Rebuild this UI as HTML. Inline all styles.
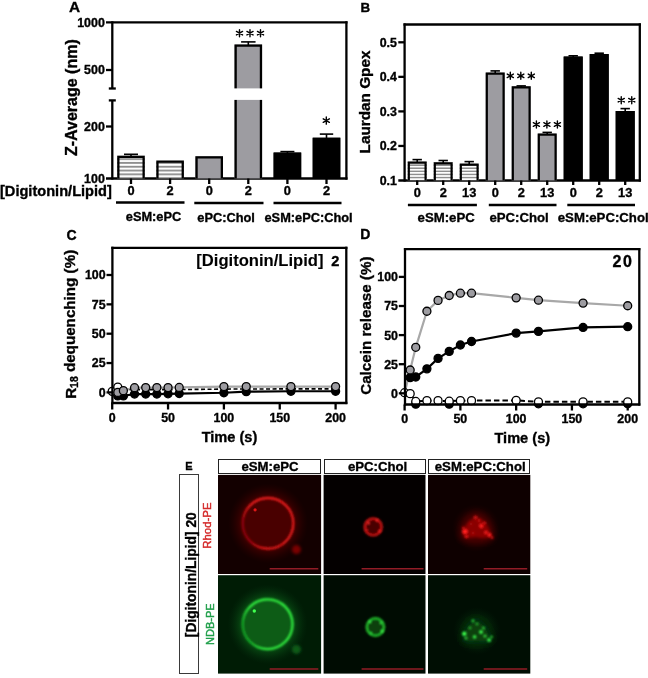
<!DOCTYPE html>
<html><head><meta charset="utf-8"><style>
html,body{margin:0;padding:0;background:#fff;width:648px;height:678px;overflow:hidden}
svg{display:block;font-family:"Liberation Sans",sans-serif;will-change:transform}
</style></head><body>
<svg width="648" height="678" viewBox="0 0 648 678">
<defs>
<pattern id="stripeA" patternUnits="userSpaceOnUse" x="0" y="157.3" width="10" height="3.8"><rect width="10" height="3.8" fill="#fff"/><rect y="0.9" width="10" height="1.8" fill="#8c8c8c"/></pattern>
<pattern id="stripeB" patternUnits="userSpaceOnUse" x="0" y="163.6" width="10" height="3.1"><rect width="10" height="3.1" fill="#fff"/><rect y="0.8" width="10" height="1.5" fill="#8c8c8c"/></pattern>
<filter id="blur1" x="-30%" y="-30%" width="160%" height="160%"><feGaussianBlur stdDeviation="0.7"/></filter>
<filter id="blur2" x="-50%" y="-50%" width="200%" height="200%"><feGaussianBlur stdDeviation="1.6"/></filter>
<filter id="blur1b" x="-80%" y="-80%" width="260%" height="260%"><feGaussianBlur stdDeviation="1.1"/></filter>
<filter id="blur1c" x="-50%" y="-50%" width="200%" height="200%"><feGaussianBlur stdDeviation="0.9"/></filter>
<filter id="blur3" x="-50%" y="-50%" width="200%" height="200%"><feGaussianBlur stdDeviation="3"/></filter>
<linearGradient id="ringR" gradientUnits="userSpaceOnUse" x1="243" y1="527" x2="256" y2="523"><stop offset="0" stop-color="#900008"/><stop offset="1" stop-color="#e81a1a"/></linearGradient>
<linearGradient id="ringG" gradientUnits="userSpaceOnUse" x1="243" y1="628" x2="256" y2="624"><stop offset="0" stop-color="#14a024"/><stop offset="1" stop-color="#30ee40"/></linearGradient>
<radialGradient id="glowR"><stop offset="0.58" stop-color="#640000" stop-opacity="0.8"/><stop offset="1" stop-color="#300000" stop-opacity="0"/></radialGradient>
<radialGradient id="glowG"><stop offset="0.58" stop-color="#0c6418" stop-opacity="0.85"/><stop offset="1" stop-color="#053010" stop-opacity="0"/></radialGradient>
</defs>
<text x="69.00" y="12.00" font-size="15.4" font-weight="bold" text-anchor="start" fill="#000" font-family="Liberation Sans" stroke="#000" stroke-width="0.35" >A</text>
<line x1="112.30" y1="21.30" x2="112.30" y2="88.50" stroke="#000" stroke-width="2.3" />
<line x1="108.80" y1="88.50" x2="115.80" y2="88.50" stroke="#000" stroke-width="2.3" />
<line x1="112.30" y1="100.40" x2="112.30" y2="179.60" stroke="#000" stroke-width="2.3" />
<line x1="108.80" y1="100.40" x2="115.80" y2="100.40" stroke="#000" stroke-width="2.3" />
<line x1="106.00" y1="22.30" x2="347.50" y2="22.30" stroke="#000" stroke-width="2.3" />
<line x1="346.40" y1="21.20" x2="346.40" y2="179.60" stroke="#000" stroke-width="2.3" />
<line x1="106.00" y1="178.50" x2="347.50" y2="178.50" stroke="#000" stroke-width="2.3" />
<line x1="106.00" y1="70.00" x2="112.30" y2="70.00" stroke="#000" stroke-width="2.3" />
<line x1="106.00" y1="126.50" x2="112.30" y2="126.50" stroke="#000" stroke-width="2.3" />
<text x="104.80" y="26.70" font-size="12.4" font-weight="bold" text-anchor="end" fill="#000" font-family="Liberation Sans" stroke="#000" stroke-width="0.35" >1000</text>
<text x="104.80" y="74.40" font-size="12.4" font-weight="bold" text-anchor="end" fill="#000" font-family="Liberation Sans" stroke="#000" stroke-width="0.35" >500</text>
<text x="104.80" y="131.00" font-size="12.4" font-weight="bold" text-anchor="end" fill="#000" font-family="Liberation Sans" stroke="#000" stroke-width="0.35" >200</text>
<text x="104.80" y="182.90" font-size="12.4" font-weight="bold" text-anchor="end" fill="#000" font-family="Liberation Sans" stroke="#000" stroke-width="0.35" >100</text>
<text x="76.90" y="97.60" font-size="16" font-weight="bold" text-anchor="middle" fill="#000" font-family="Liberation Sans" stroke="#000" stroke-width="0.35" transform="rotate(-90 76.90 97.60)" >Z-Average (nm)</text>
<rect x="117.20" y="155.70" width="27.60" height="22.80" fill="url(#stripeA)" />
<path d="M118.35 178.50V156.85H143.65V178.50" fill="none" stroke="#000" stroke-width="2.3"/>
<rect x="156.30" y="160.50" width="27.60" height="18.00" fill="url(#stripeA)" />
<path d="M157.45 178.50V161.65H182.75V178.50" fill="none" stroke="#000" stroke-width="2.3"/>
<rect x="195.40" y="156.20" width="27.60" height="22.30" fill="#9d9ca1" />
<path d="M196.55 178.50V157.35H221.85V178.50" fill="none" stroke="#000" stroke-width="2.3"/>
<rect x="234.50" y="44.40" width="27.60" height="134.10" fill="#9d9ca1" />
<path d="M235.65 178.50V45.55H260.95V178.50" fill="none" stroke="#000" stroke-width="2.3"/>
<rect x="273.60" y="152.60" width="27.60" height="25.90" fill="#000" />
<path d="M274.75 178.50V153.75H300.05V178.50" fill="none" stroke="#000" stroke-width="2.3"/>
<rect x="312.70" y="137.70" width="27.60" height="40.80" fill="#000" />
<path d="M313.85 178.50V138.85H339.15V178.50" fill="none" stroke="#000" stroke-width="2.3"/>
<rect x="233.50" y="88.40" width="29.60" height="11.50" fill="#fff" />
<line x1="124.00" y1="154.30" x2="138.00" y2="154.30" stroke="#000" stroke-width="1.6" />
<line x1="131.00" y1="154.30" x2="131.00" y2="156.00" stroke="#000" stroke-width="1.6" />
<line x1="241.10" y1="41.90" x2="255.50" y2="41.90" stroke="#000" stroke-width="1.6" />
<line x1="248.30" y1="41.90" x2="248.30" y2="45.00" stroke="#000" stroke-width="1.6" />
<line x1="280.40" y1="151.60" x2="294.40" y2="151.60" stroke="#000" stroke-width="1.6" />
<line x1="287.40" y1="151.60" x2="287.40" y2="153.00" stroke="#000" stroke-width="1.6" />
<line x1="319.80" y1="134.10" x2="333.20" y2="134.10" stroke="#000" stroke-width="1.6" />
<line x1="326.50" y1="134.10" x2="326.50" y2="138.00" stroke="#000" stroke-width="1.6" />
<path d="M239.50 29.65V36.75M236.43 31.43L242.57 34.98M236.43 34.98L242.57 31.43" stroke="#000" stroke-width="1.4" stroke-linecap="round"/>
<path d="M250.00 29.65V36.75M246.93 31.43L253.07 34.98M246.93 34.98L253.07 31.43" stroke="#000" stroke-width="1.4" stroke-linecap="round"/>
<path d="M260.50 29.65V36.75M257.43 31.43L263.57 34.98M257.43 34.98L263.57 31.43" stroke="#000" stroke-width="1.4" stroke-linecap="round"/>
<path d="M326.30 117.05V124.15M323.23 118.82L329.37 122.38M323.23 122.38L329.37 118.82" stroke="#000" stroke-width="1.4" stroke-linecap="round"/>
<line x1="131.00" y1="178.50" x2="131.00" y2="184.00" stroke="#000" stroke-width="2.3" />
<line x1="170.10" y1="178.50" x2="170.10" y2="184.00" stroke="#000" stroke-width="2.3" />
<line x1="209.20" y1="178.50" x2="209.20" y2="184.00" stroke="#000" stroke-width="2.3" />
<line x1="248.30" y1="178.50" x2="248.30" y2="184.00" stroke="#000" stroke-width="2.3" />
<line x1="287.40" y1="178.50" x2="287.40" y2="184.00" stroke="#000" stroke-width="2.3" />
<line x1="326.50" y1="178.50" x2="326.50" y2="184.00" stroke="#000" stroke-width="2.3" />
<text x="0.00" y="196.00" font-size="14.6" font-weight="bold" text-anchor="start" fill="#000" font-family="Liberation Sans" stroke="#000" stroke-width="0.35" >[Digitonin/Lipid]</text>
<text x="131.00" y="195.40" font-size="12.8" font-weight="bold" text-anchor="middle" fill="#000" font-family="Liberation Sans" stroke="#000" stroke-width="0.35" >0</text>
<text x="170.10" y="195.40" font-size="12.8" font-weight="bold" text-anchor="middle" fill="#000" font-family="Liberation Sans" stroke="#000" stroke-width="0.35" >2</text>
<text x="209.20" y="195.40" font-size="12.8" font-weight="bold" text-anchor="middle" fill="#000" font-family="Liberation Sans" stroke="#000" stroke-width="0.35" >0</text>
<text x="248.30" y="195.40" font-size="12.8" font-weight="bold" text-anchor="middle" fill="#000" font-family="Liberation Sans" stroke="#000" stroke-width="0.35" >2</text>
<text x="287.40" y="195.40" font-size="12.8" font-weight="bold" text-anchor="middle" fill="#000" font-family="Liberation Sans" stroke="#000" stroke-width="0.35" >0</text>
<text x="326.50" y="195.40" font-size="12.8" font-weight="bold" text-anchor="middle" fill="#000" font-family="Liberation Sans" stroke="#000" stroke-width="0.35" >2</text>
<line x1="116.00" y1="202.50" x2="184.50" y2="202.50" stroke="#000" stroke-width="2.3" />
<line x1="194.30" y1="203.00" x2="263.50" y2="203.00" stroke="#000" stroke-width="2.3" />
<line x1="273.50" y1="203.00" x2="341.50" y2="203.00" stroke="#000" stroke-width="2.3" />
<text x="153.50" y="221.00" font-size="12.8" font-weight="bold" text-anchor="middle" fill="#000" font-family="Liberation Sans" stroke="#000" stroke-width="0.35" >eSM:ePC</text>
<text x="226.10" y="222.00" font-size="12.8" font-weight="bold" text-anchor="middle" fill="#000" font-family="Liberation Sans" stroke="#000" stroke-width="0.35" >ePC:Chol</text>
<text x="308.60" y="222.00" font-size="12.8" font-weight="bold" text-anchor="middle" fill="#000" font-family="Liberation Sans" stroke="#000" stroke-width="0.35" >eSM:ePC:Chol</text>
<text x="360.40" y="12.10" font-size="13.4" font-weight="bold" text-anchor="start" fill="#000" font-family="Liberation Sans" stroke="#000" stroke-width="0.35" >B</text>
<line x1="404.60" y1="23.40" x2="404.60" y2="181.60" stroke="#000" stroke-width="2.3" />
<line x1="403.50" y1="24.50" x2="640.90" y2="24.50" stroke="#000" stroke-width="2.3" />
<line x1="639.80" y1="23.40" x2="639.80" y2="181.60" stroke="#000" stroke-width="2.3" />
<line x1="398.30" y1="180.50" x2="640.90" y2="180.50" stroke="#000" stroke-width="2.3" />
<line x1="398.30" y1="145.95" x2="404.60" y2="145.95" stroke="#000" stroke-width="2.3" />
<line x1="398.30" y1="111.40" x2="404.60" y2="111.40" stroke="#000" stroke-width="2.3" />
<line x1="398.30" y1="76.85" x2="404.60" y2="76.85" stroke="#000" stroke-width="2.3" />
<line x1="398.30" y1="42.30" x2="404.60" y2="42.30" stroke="#000" stroke-width="2.3" />
<text x="396.90" y="184.90" font-size="12.4" font-weight="bold" text-anchor="end" fill="#000" font-family="Liberation Sans" stroke="#000" stroke-width="0.35" >0.1</text>
<text x="396.90" y="150.35" font-size="12.4" font-weight="bold" text-anchor="end" fill="#000" font-family="Liberation Sans" stroke="#000" stroke-width="0.35" >0.2</text>
<text x="396.90" y="115.80" font-size="12.4" font-weight="bold" text-anchor="end" fill="#000" font-family="Liberation Sans" stroke="#000" stroke-width="0.35" >0.3</text>
<text x="396.90" y="81.25" font-size="12.4" font-weight="bold" text-anchor="end" fill="#000" font-family="Liberation Sans" stroke="#000" stroke-width="0.35" >0.4</text>
<text x="396.90" y="46.70" font-size="12.4" font-weight="bold" text-anchor="end" fill="#000" font-family="Liberation Sans" stroke="#000" stroke-width="0.35" >0.5</text>
<text x="369.80" y="102.00" font-size="15.3" font-weight="bold" text-anchor="middle" fill="#000" font-family="Liberation Sans" stroke="#000" stroke-width="0.35" transform="rotate(-90 369.80 102.00)" >Laurdan Gpex</text>
<rect x="407.70" y="161.60" width="19.00" height="18.90" fill="url(#stripeB)" />
<path d="M408.80 180.50V162.70H425.60V180.50" fill="none" stroke="#000" stroke-width="2.2"/>
<line x1="412.50" y1="159.60" x2="421.90" y2="159.60" stroke="#000" stroke-width="1.6" />
<line x1="417.20" y1="159.60" x2="417.20" y2="162.60" stroke="#000" stroke-width="1.6" />
<line x1="417.20" y1="180.50" x2="417.20" y2="185.00" stroke="#000" stroke-width="2.3" />
<text x="417.20" y="197.00" font-size="12.8" font-weight="bold" text-anchor="middle" fill="#000" font-family="Liberation Sans" stroke="#000" stroke-width="0.35" >0</text>
<rect x="433.70" y="162.30" width="19.00" height="18.20" fill="url(#stripeB)" />
<path d="M434.80 180.50V163.40H451.60V180.50" fill="none" stroke="#000" stroke-width="2.2"/>
<line x1="438.50" y1="160.50" x2="447.90" y2="160.50" stroke="#000" stroke-width="1.6" />
<line x1="443.20" y1="160.50" x2="443.20" y2="163.30" stroke="#000" stroke-width="1.6" />
<line x1="443.20" y1="180.50" x2="443.20" y2="185.00" stroke="#000" stroke-width="2.3" />
<text x="443.20" y="197.00" font-size="12.8" font-weight="bold" text-anchor="middle" fill="#000" font-family="Liberation Sans" stroke="#000" stroke-width="0.35" >2</text>
<rect x="459.70" y="163.60" width="19.00" height="16.90" fill="url(#stripeB)" />
<path d="M460.80 180.50V164.70H477.60V180.50" fill="none" stroke="#000" stroke-width="2.2"/>
<line x1="464.50" y1="161.60" x2="473.90" y2="161.60" stroke="#000" stroke-width="1.6" />
<line x1="469.20" y1="161.60" x2="469.20" y2="164.60" stroke="#000" stroke-width="1.6" />
<line x1="469.20" y1="180.50" x2="469.20" y2="185.00" stroke="#000" stroke-width="2.3" />
<text x="469.20" y="197.00" font-size="12.8" font-weight="bold" text-anchor="middle" fill="#000" font-family="Liberation Sans" stroke="#000" stroke-width="0.35" >13</text>
<rect x="485.70" y="72.60" width="19.00" height="107.90" fill="#9d9ca1" />
<path d="M486.80 180.50V73.70H503.60V180.50" fill="none" stroke="#000" stroke-width="2.2"/>
<line x1="490.50" y1="70.90" x2="499.90" y2="70.90" stroke="#000" stroke-width="1.6" />
<line x1="495.20" y1="70.90" x2="495.20" y2="73.60" stroke="#000" stroke-width="1.6" />
<line x1="495.20" y1="180.50" x2="495.20" y2="185.00" stroke="#000" stroke-width="2.3" />
<text x="495.20" y="197.00" font-size="12.8" font-weight="bold" text-anchor="middle" fill="#000" font-family="Liberation Sans" stroke="#000" stroke-width="0.35" >0</text>
<rect x="511.70" y="86.30" width="19.00" height="94.20" fill="#9d9ca1" />
<path d="M512.80 180.50V87.40H529.60V180.50" fill="none" stroke="#000" stroke-width="2.2"/>
<line x1="516.50" y1="85.90" x2="525.90" y2="85.90" stroke="#000" stroke-width="1.6" />
<line x1="521.20" y1="85.90" x2="521.20" y2="87.30" stroke="#000" stroke-width="1.6" />
<line x1="521.20" y1="180.50" x2="521.20" y2="185.00" stroke="#000" stroke-width="2.3" />
<text x="521.20" y="197.00" font-size="12.8" font-weight="bold" text-anchor="middle" fill="#000" font-family="Liberation Sans" stroke="#000" stroke-width="0.35" >2</text>
<rect x="537.70" y="133.60" width="19.00" height="46.90" fill="#9d9ca1" />
<path d="M538.80 180.50V134.70H555.60V180.50" fill="none" stroke="#000" stroke-width="2.2"/>
<line x1="542.50" y1="132.40" x2="551.90" y2="132.40" stroke="#000" stroke-width="1.6" />
<line x1="547.20" y1="132.40" x2="547.20" y2="134.60" stroke="#000" stroke-width="1.6" />
<line x1="547.20" y1="180.50" x2="547.20" y2="185.00" stroke="#000" stroke-width="2.3" />
<text x="547.20" y="197.00" font-size="12.8" font-weight="bold" text-anchor="middle" fill="#000" font-family="Liberation Sans" stroke="#000" stroke-width="0.35" >13</text>
<rect x="563.70" y="56.60" width="19.00" height="123.90" fill="#000" />
<path d="M564.80 180.50V57.70H581.60V180.50" fill="none" stroke="#000" stroke-width="2.2"/>
<line x1="568.50" y1="55.80" x2="577.90" y2="55.80" stroke="#000" stroke-width="1.6" />
<line x1="573.20" y1="55.80" x2="573.20" y2="57.60" stroke="#000" stroke-width="1.6" />
<line x1="573.20" y1="180.50" x2="573.20" y2="185.00" stroke="#000" stroke-width="2.3" />
<text x="573.20" y="197.00" font-size="12.8" font-weight="bold" text-anchor="middle" fill="#000" font-family="Liberation Sans" stroke="#000" stroke-width="0.35" >0</text>
<rect x="589.70" y="54.10" width="19.00" height="126.40" fill="#000" />
<path d="M590.80 180.50V55.20H607.60V180.50" fill="none" stroke="#000" stroke-width="2.2"/>
<line x1="594.50" y1="53.20" x2="603.90" y2="53.20" stroke="#000" stroke-width="1.6" />
<line x1="599.20" y1="53.20" x2="599.20" y2="55.10" stroke="#000" stroke-width="1.6" />
<line x1="599.20" y1="180.50" x2="599.20" y2="185.00" stroke="#000" stroke-width="2.3" />
<text x="599.20" y="197.00" font-size="12.8" font-weight="bold" text-anchor="middle" fill="#000" font-family="Liberation Sans" stroke="#000" stroke-width="0.35" >2</text>
<rect x="615.70" y="111.00" width="19.00" height="69.50" fill="#000" />
<path d="M616.80 180.50V112.10H633.60V180.50" fill="none" stroke="#000" stroke-width="2.2"/>
<line x1="620.50" y1="108.60" x2="629.90" y2="108.60" stroke="#000" stroke-width="1.6" />
<line x1="625.20" y1="108.60" x2="625.20" y2="112.00" stroke="#000" stroke-width="1.6" />
<line x1="625.20" y1="180.50" x2="625.20" y2="185.00" stroke="#000" stroke-width="2.3" />
<text x="625.20" y="197.00" font-size="12.8" font-weight="bold" text-anchor="middle" fill="#000" font-family="Liberation Sans" stroke="#000" stroke-width="0.35" >13</text>
<path d="M510.30 72.25V79.35M507.23 74.02L513.37 77.58M507.23 77.58L513.37 74.02" stroke="#000" stroke-width="1.4" stroke-linecap="round"/>
<path d="M520.80 72.25V79.35M517.73 74.02L523.87 77.58M517.73 77.58L523.87 74.02" stroke="#000" stroke-width="1.4" stroke-linecap="round"/>
<path d="M531.30 72.25V79.35M528.23 74.02L534.37 77.58M528.23 77.58L534.37 74.02" stroke="#000" stroke-width="1.4" stroke-linecap="round"/>
<path d="M536.40 120.95V128.05M533.33 122.72L539.47 126.28M533.33 126.28L539.47 122.72" stroke="#000" stroke-width="1.4" stroke-linecap="round"/>
<path d="M546.90 120.95V128.05M543.83 122.72L549.97 126.28M543.83 126.28L549.97 122.72" stroke="#000" stroke-width="1.4" stroke-linecap="round"/>
<path d="M557.40 120.95V128.05M554.33 122.72L560.47 126.28M554.33 126.28L560.47 122.72" stroke="#000" stroke-width="1.4" stroke-linecap="round"/>
<path d="M621.25 96.65V103.75M618.18 98.42L624.32 101.98M618.18 101.98L624.32 98.42" stroke="#000" stroke-width="1.4" stroke-linecap="round"/>
<path d="M631.75 96.65V103.75M628.68 98.42L634.82 101.98M628.68 101.98L634.82 98.42" stroke="#000" stroke-width="1.4" stroke-linecap="round"/>
<line x1="407.90" y1="205.00" x2="476.90" y2="205.00" stroke="#000" stroke-width="2.3" />
<line x1="488.80" y1="205.00" x2="556.50" y2="205.00" stroke="#000" stroke-width="2.3" />
<line x1="567.30" y1="205.00" x2="635.00" y2="205.00" stroke="#000" stroke-width="2.3" />
<text x="446.20" y="222.20" font-size="13.2" font-weight="bold" text-anchor="middle" fill="#000" font-family="Liberation Sans" stroke="#000" stroke-width="0.35" >eSM:ePC</text>
<text x="519.10" y="222.20" font-size="13.2" font-weight="bold" text-anchor="middle" fill="#000" font-family="Liberation Sans" stroke="#000" stroke-width="0.35" >ePC:Chol</text>
<text x="603.20" y="222.20" font-size="13.2" font-weight="bold" text-anchor="middle" fill="#000" font-family="Liberation Sans" stroke="#000" stroke-width="0.35" >eSM:ePC:Chol</text>
<text x="66.50" y="239.80" font-size="14" font-weight="bold" text-anchor="start" fill="#000" font-family="Liberation Sans" stroke="#000" stroke-width="0.35" >C</text>
<polyline points="112.20,388.17 117.78,392.40 123.37,390.64 134.54,387.70 145.71,387.59 156.88,387.59 168.05,387.59 179.22,387.47 223.90,386.53 246.24,386.53 290.92,386.53 335.60,386.53" fill="none" stroke="#a8a8a8" stroke-width="2.2"/>
<polyline points="112.20,391.34 117.78,387.12 123.37,390.05 134.54,389.58 145.71,389.58 156.88,389.58 168.05,389.58 179.22,389.58 223.90,389.11 246.24,389.00 290.92,388.88 335.60,388.88" fill="none" stroke="#000" stroke-width="1.6" stroke-dasharray="4 2.5"/>
<polyline points="112.20,393.57 117.78,395.92 123.37,395.92 134.54,394.04 145.71,394.04 156.88,394.04 168.05,393.81 179.22,393.57 223.90,392.75 246.24,391.70 290.92,391.23 335.60,391.23" fill="none" stroke="#000" stroke-width="2.2"/>
<circle cx="112.20" cy="391.34" r="4.0" fill="#fff" stroke="#000" stroke-width="1.3"/>
<circle cx="117.78" cy="395.92" r="4.0" fill="#000" stroke="#000" stroke-width="1.3"/>
<circle cx="123.37" cy="395.92" r="4.0" fill="#000" stroke="#000" stroke-width="1.3"/>
<circle cx="134.54" cy="394.04" r="4.0" fill="#000" stroke="#000" stroke-width="1.3"/>
<circle cx="145.71" cy="394.04" r="4.0" fill="#000" stroke="#000" stroke-width="1.3"/>
<circle cx="156.88" cy="394.04" r="4.0" fill="#000" stroke="#000" stroke-width="1.3"/>
<circle cx="168.05" cy="393.81" r="4.0" fill="#000" stroke="#000" stroke-width="1.3"/>
<circle cx="179.22" cy="393.57" r="4.0" fill="#000" stroke="#000" stroke-width="1.3"/>
<circle cx="223.90" cy="392.75" r="4.0" fill="#000" stroke="#000" stroke-width="1.3"/>
<circle cx="246.24" cy="391.70" r="4.0" fill="#000" stroke="#000" stroke-width="1.3"/>
<circle cx="290.92" cy="391.23" r="4.0" fill="#000" stroke="#000" stroke-width="1.3"/>
<circle cx="335.60" cy="391.23" r="4.0" fill="#000" stroke="#000" stroke-width="1.3"/>
<circle cx="117.78" cy="387.12" r="4.0" fill="#fff" stroke="#000" stroke-width="1.3"/>
<circle cx="117.78" cy="392.40" r="4.0" fill="#9d9ca1" stroke="#000" stroke-width="1.3"/>
<circle cx="123.37" cy="390.64" r="4.0" fill="#9d9ca1" stroke="#000" stroke-width="1.3"/>
<circle cx="134.54" cy="387.70" r="4.0" fill="#9d9ca1" stroke="#000" stroke-width="1.3"/>
<circle cx="145.71" cy="387.59" r="4.0" fill="#9d9ca1" stroke="#000" stroke-width="1.3"/>
<circle cx="156.88" cy="387.59" r="4.0" fill="#9d9ca1" stroke="#000" stroke-width="1.3"/>
<circle cx="168.05" cy="387.59" r="4.0" fill="#9d9ca1" stroke="#000" stroke-width="1.3"/>
<circle cx="179.22" cy="387.47" r="4.0" fill="#9d9ca1" stroke="#000" stroke-width="1.3"/>
<circle cx="223.90" cy="386.53" r="4.0" fill="#9d9ca1" stroke="#000" stroke-width="1.3"/>
<circle cx="246.24" cy="386.53" r="4.0" fill="#9d9ca1" stroke="#000" stroke-width="1.3"/>
<circle cx="290.92" cy="386.53" r="4.0" fill="#9d9ca1" stroke="#000" stroke-width="1.3"/>
<circle cx="335.60" cy="386.53" r="4.0" fill="#9d9ca1" stroke="#000" stroke-width="1.3"/>
<line x1="112.40" y1="246.70" x2="112.40" y2="404.10" stroke="#000" stroke-width="2.3" />
<line x1="111.30" y1="247.80" x2="347.40" y2="247.80" stroke="#000" stroke-width="2.3" />
<line x1="346.30" y1="246.70" x2="346.30" y2="404.10" stroke="#000" stroke-width="2.3" />
<line x1="111.30" y1="403.00" x2="347.40" y2="403.00" stroke="#000" stroke-width="2.3" />
<line x1="106.50" y1="392.40" x2="112.40" y2="392.40" stroke="#000" stroke-width="2.3" />
<text x="105.60" y="396.80" font-size="12.4" font-weight="bold" text-anchor="end" fill="#000" font-family="Liberation Sans" stroke="#000" stroke-width="0.35" >0</text>
<line x1="106.50" y1="363.05" x2="112.40" y2="363.05" stroke="#000" stroke-width="2.3" />
<text x="105.60" y="367.45" font-size="12.4" font-weight="bold" text-anchor="end" fill="#000" font-family="Liberation Sans" stroke="#000" stroke-width="0.35" >25</text>
<line x1="106.50" y1="333.70" x2="112.40" y2="333.70" stroke="#000" stroke-width="2.3" />
<text x="105.60" y="338.10" font-size="12.4" font-weight="bold" text-anchor="end" fill="#000" font-family="Liberation Sans" stroke="#000" stroke-width="0.35" >50</text>
<line x1="106.50" y1="304.35" x2="112.40" y2="304.35" stroke="#000" stroke-width="2.3" />
<text x="105.60" y="308.75" font-size="12.4" font-weight="bold" text-anchor="end" fill="#000" font-family="Liberation Sans" stroke="#000" stroke-width="0.35" >75</text>
<line x1="106.50" y1="275.00" x2="112.40" y2="275.00" stroke="#000" stroke-width="2.3" />
<text x="105.60" y="279.40" font-size="12.4" font-weight="bold" text-anchor="end" fill="#000" font-family="Liberation Sans" stroke="#000" stroke-width="0.35" >100</text>
<line x1="112.20" y1="403.00" x2="112.20" y2="409.50" stroke="#000" stroke-width="2.3" />
<text x="112.20" y="422.00" font-size="12.4" font-weight="bold" text-anchor="middle" fill="#000" font-family="Liberation Sans" stroke="#000" stroke-width="0.35" >0</text>
<line x1="168.05" y1="403.00" x2="168.05" y2="409.50" stroke="#000" stroke-width="2.3" />
<text x="168.05" y="422.00" font-size="12.4" font-weight="bold" text-anchor="middle" fill="#000" font-family="Liberation Sans" stroke="#000" stroke-width="0.35" >50</text>
<line x1="223.90" y1="403.00" x2="223.90" y2="409.50" stroke="#000" stroke-width="2.3" />
<text x="223.90" y="422.00" font-size="12.4" font-weight="bold" text-anchor="middle" fill="#000" font-family="Liberation Sans" stroke="#000" stroke-width="0.35" >100</text>
<line x1="279.75" y1="403.00" x2="279.75" y2="409.50" stroke="#000" stroke-width="2.3" />
<text x="279.75" y="422.00" font-size="12.4" font-weight="bold" text-anchor="middle" fill="#000" font-family="Liberation Sans" stroke="#000" stroke-width="0.35" >150</text>
<line x1="335.60" y1="403.00" x2="335.60" y2="409.50" stroke="#000" stroke-width="2.3" />
<text x="335.60" y="422.00" font-size="12.4" font-weight="bold" text-anchor="middle" fill="#000" font-family="Liberation Sans" stroke="#000" stroke-width="0.35" >200</text>
<text x="229.50" y="441.80" font-size="14.6" font-weight="bold" text-anchor="middle" fill="#000" font-family="Liberation Sans" stroke="#000" stroke-width="0.35" >Time (s)</text>
<text x="76.4" y="324.3" font-size="15.2" font-weight="bold" text-anchor="middle" font-family="Liberation Sans" stroke="#000" stroke-width="0.35" transform="rotate(-90 76.4 324.3)">R<tspan font-size="10.4" dy="1.7">18</tspan><tspan dy="-3.5"> dequenching (%)</tspan></text>
<text x="196.30" y="266.30" font-size="16.6" font-weight="bold" text-anchor="start" fill="#000" font-family="Liberation Sans" stroke="#000" stroke-width="0.1" >[Digitonin/Lipid]</text>
<text x="331.30" y="266.20" font-size="14.6" font-weight="bold" text-anchor="start" fill="#000" font-family="Liberation Sans" stroke="#000" stroke-width="0.35" >2</text>
<text x="360.30" y="238.90" font-size="14" font-weight="bold" text-anchor="start" fill="#000" font-family="Liberation Sans" stroke="#000" stroke-width="0.35" >D</text>
<polyline points="404.60,393.30 410.18,370.02 415.75,347.32 426.91,311.24 438.06,300.41 449.22,295.52 460.38,293.20 471.53,293.20 516.15,297.85 538.46,300.18 583.08,303.09 627.70,305.77" fill="none" stroke="#a8a8a8" stroke-width="2.2"/>
<polyline points="404.60,392.72 410.18,393.65 415.75,401.45 426.91,400.63 438.06,400.63 449.22,401.22 460.38,400.63 471.53,400.63 516.15,400.40 538.46,401.80 583.08,401.80 627.70,401.80" fill="none" stroke="#000" stroke-width="2" stroke-dasharray="5.5 3"/>
<polyline points="410.18,377.59 415.75,377.00 426.91,368.86 438.06,358.38 449.22,351.40 460.38,344.99 471.53,341.50 516.15,333.12 538.46,331.38 583.08,327.42 627.70,326.72" fill="none" stroke="#000" stroke-width="2.2"/>
<circle cx="415.75" cy="404.13" r="4.0" fill="#000" stroke="#000" stroke-width="1.3"/>
<circle cx="449.22" cy="404.13" r="4.0" fill="#000" stroke="#000" stroke-width="1.3"/>
<circle cx="538.46" cy="403.78" r="4.0" fill="#000" stroke="#000" stroke-width="1.3"/>
<circle cx="583.08" cy="403.78" r="4.0" fill="#000" stroke="#000" stroke-width="1.3"/>
<circle cx="627.70" cy="403.78" r="4.0" fill="#000" stroke="#000" stroke-width="1.3"/>
<circle cx="404.60" cy="392.72" r="4.0" fill="#fff" stroke="#000" stroke-width="1.3"/>
<circle cx="410.18" cy="393.65" r="4.0" fill="#fff" stroke="#000" stroke-width="1.3"/>
<circle cx="415.75" cy="401.45" r="4.0" fill="#fff" stroke="#000" stroke-width="1.3"/>
<circle cx="426.91" cy="400.63" r="4.0" fill="#fff" stroke="#000" stroke-width="1.3"/>
<circle cx="438.06" cy="400.63" r="4.0" fill="#fff" stroke="#000" stroke-width="1.3"/>
<circle cx="449.22" cy="401.22" r="4.0" fill="#fff" stroke="#000" stroke-width="1.3"/>
<circle cx="460.38" cy="400.63" r="4.0" fill="#fff" stroke="#000" stroke-width="1.3"/>
<circle cx="471.53" cy="400.63" r="4.0" fill="#fff" stroke="#000" stroke-width="1.3"/>
<circle cx="516.15" cy="400.40" r="4.0" fill="#fff" stroke="#000" stroke-width="1.3"/>
<circle cx="538.46" cy="401.80" r="4.0" fill="#fff" stroke="#000" stroke-width="1.3"/>
<circle cx="583.08" cy="401.80" r="4.0" fill="#fff" stroke="#000" stroke-width="1.3"/>
<circle cx="627.70" cy="401.80" r="4.0" fill="#fff" stroke="#000" stroke-width="1.3"/>
<circle cx="410.18" cy="377.59" r="4.0" fill="#000" stroke="#000" stroke-width="1.3"/>
<circle cx="415.75" cy="377.00" r="4.0" fill="#000" stroke="#000" stroke-width="1.3"/>
<circle cx="426.91" cy="368.86" r="4.0" fill="#000" stroke="#000" stroke-width="1.3"/>
<circle cx="438.06" cy="358.38" r="4.0" fill="#000" stroke="#000" stroke-width="1.3"/>
<circle cx="449.22" cy="351.40" r="4.0" fill="#000" stroke="#000" stroke-width="1.3"/>
<circle cx="460.38" cy="344.99" r="4.0" fill="#000" stroke="#000" stroke-width="1.3"/>
<circle cx="471.53" cy="341.50" r="4.0" fill="#000" stroke="#000" stroke-width="1.3"/>
<circle cx="516.15" cy="333.12" r="4.0" fill="#000" stroke="#000" stroke-width="1.3"/>
<circle cx="538.46" cy="331.38" r="4.0" fill="#000" stroke="#000" stroke-width="1.3"/>
<circle cx="583.08" cy="327.42" r="4.0" fill="#000" stroke="#000" stroke-width="1.3"/>
<circle cx="627.70" cy="326.72" r="4.0" fill="#000" stroke="#000" stroke-width="1.3"/>
<circle cx="410.18" cy="370.02" r="4.0" fill="#9d9ca1" stroke="#000" stroke-width="1.3"/>
<circle cx="415.75" cy="347.32" r="4.0" fill="#9d9ca1" stroke="#000" stroke-width="1.3"/>
<circle cx="426.91" cy="311.24" r="4.0" fill="#9d9ca1" stroke="#000" stroke-width="1.3"/>
<circle cx="438.06" cy="300.41" r="4.0" fill="#9d9ca1" stroke="#000" stroke-width="1.3"/>
<circle cx="449.22" cy="295.52" r="4.0" fill="#9d9ca1" stroke="#000" stroke-width="1.3"/>
<circle cx="460.38" cy="293.20" r="4.0" fill="#9d9ca1" stroke="#000" stroke-width="1.3"/>
<circle cx="471.53" cy="293.20" r="4.0" fill="#9d9ca1" stroke="#000" stroke-width="1.3"/>
<circle cx="516.15" cy="297.85" r="4.0" fill="#9d9ca1" stroke="#000" stroke-width="1.3"/>
<circle cx="538.46" cy="300.18" r="4.0" fill="#9d9ca1" stroke="#000" stroke-width="1.3"/>
<circle cx="583.08" cy="303.09" r="4.0" fill="#9d9ca1" stroke="#000" stroke-width="1.3"/>
<circle cx="627.70" cy="305.77" r="4.0" fill="#9d9ca1" stroke="#000" stroke-width="1.3"/>
<line x1="405.00" y1="248.10" x2="405.00" y2="405.60" stroke="#000" stroke-width="2.3" />
<line x1="403.90" y1="249.20" x2="640.40" y2="249.20" stroke="#000" stroke-width="2.3" />
<line x1="639.30" y1="248.10" x2="639.30" y2="405.60" stroke="#000" stroke-width="2.3" />
<line x1="403.90" y1="404.50" x2="640.40" y2="404.50" stroke="#000" stroke-width="2.3" />
<line x1="398.80" y1="393.30" x2="405.00" y2="393.30" stroke="#000" stroke-width="2.3" />
<text x="398.00" y="397.70" font-size="12.4" font-weight="bold" text-anchor="end" fill="#000" font-family="Liberation Sans" stroke="#000" stroke-width="0.35" >0</text>
<line x1="398.80" y1="364.20" x2="405.00" y2="364.20" stroke="#000" stroke-width="2.3" />
<text x="398.00" y="368.60" font-size="12.4" font-weight="bold" text-anchor="end" fill="#000" font-family="Liberation Sans" stroke="#000" stroke-width="0.35" >25</text>
<line x1="398.80" y1="335.10" x2="405.00" y2="335.10" stroke="#000" stroke-width="2.3" />
<text x="398.00" y="339.50" font-size="12.4" font-weight="bold" text-anchor="end" fill="#000" font-family="Liberation Sans" stroke="#000" stroke-width="0.35" >50</text>
<line x1="398.80" y1="306.00" x2="405.00" y2="306.00" stroke="#000" stroke-width="2.3" />
<text x="398.00" y="310.40" font-size="12.4" font-weight="bold" text-anchor="end" fill="#000" font-family="Liberation Sans" stroke="#000" stroke-width="0.35" >75</text>
<line x1="398.80" y1="276.90" x2="405.00" y2="276.90" stroke="#000" stroke-width="2.3" />
<text x="398.00" y="281.30" font-size="12.4" font-weight="bold" text-anchor="end" fill="#000" font-family="Liberation Sans" stroke="#000" stroke-width="0.35" >100</text>
<line x1="404.60" y1="404.50" x2="404.60" y2="410.50" stroke="#000" stroke-width="2.3" />
<text x="404.60" y="423.30" font-size="12.4" font-weight="bold" text-anchor="middle" fill="#000" font-family="Liberation Sans" stroke="#000" stroke-width="0.35" >0</text>
<line x1="460.38" y1="404.50" x2="460.38" y2="410.50" stroke="#000" stroke-width="2.3" />
<text x="460.38" y="423.30" font-size="12.4" font-weight="bold" text-anchor="middle" fill="#000" font-family="Liberation Sans" stroke="#000" stroke-width="0.35" >50</text>
<line x1="516.15" y1="404.50" x2="516.15" y2="410.50" stroke="#000" stroke-width="2.3" />
<text x="516.15" y="423.30" font-size="12.4" font-weight="bold" text-anchor="middle" fill="#000" font-family="Liberation Sans" stroke="#000" stroke-width="0.35" >100</text>
<line x1="571.92" y1="404.50" x2="571.92" y2="410.50" stroke="#000" stroke-width="2.3" />
<text x="571.92" y="423.30" font-size="12.4" font-weight="bold" text-anchor="middle" fill="#000" font-family="Liberation Sans" stroke="#000" stroke-width="0.35" >150</text>
<line x1="627.70" y1="404.50" x2="627.70" y2="410.50" stroke="#000" stroke-width="2.3" />
<text x="627.70" y="423.30" font-size="12.4" font-weight="bold" text-anchor="middle" fill="#000" font-family="Liberation Sans" stroke="#000" stroke-width="0.35" >200</text>
<text x="522.30" y="443.00" font-size="14.6" font-weight="bold" text-anchor="middle" fill="#000" font-family="Liberation Sans" stroke="#000" stroke-width="0.35" >Time (s)</text>
<text x="370.60" y="325.60" font-size="15.2" font-weight="bold" text-anchor="middle" fill="#000" font-family="Liberation Sans" stroke="#000" stroke-width="0.35" transform="rotate(-90 370.60 325.60)" >Calcein release (%)</text>
<text x="612.60" y="267.20" font-size="16" font-weight="bold" text-anchor="start" fill="#000" font-family="Liberation Sans" stroke="#000" stroke-width="0.35" letter-spacing="1.5">20</text>
<text x="185.30" y="470.20" font-size="11" font-weight="bold" text-anchor="start" fill="#000" font-family="Liberation Sans" stroke="#000" stroke-width="0.35" >E</text>
<rect x="179.50" y="474.50" width="19.00" height="199.00" fill="#fff" stroke="#3a3a3a" stroke-width="1" />
<text x="196.40" y="574.70" font-size="13.8" font-weight="bold" text-anchor="middle" fill="#000" font-family="Liberation Sans" stroke="#000" stroke-width="0.35" transform="rotate(-90 196.40 574.70)" >[Digitonin/Lipid] 20</text>
<text x="211.50" y="525.60" font-size="11.4" font-weight="normal" text-anchor="middle" fill="#d42a2a" font-family="Liberation Sans" transform="rotate(-90 211.50 525.60)" stroke="#d42a2a" stroke-width="0.45">Rhod-PE</text>
<text x="214.50" y="624.10" font-size="11.0" font-weight="normal" text-anchor="middle" fill="#1f9f4a" font-family="Liberation Sans" transform="rotate(-90 214.50 624.10)" stroke="#1f9f4a" stroke-width="0.45">NDB-PE</text>
<rect x="218.50" y="459.50" width="102.00" height="14.00" fill="#fff" stroke="#222" stroke-width="1" />
<text x="270.00" y="471.30" font-size="13.2" font-weight="bold" text-anchor="middle" fill="#000" font-family="Liberation Sans" stroke="#000" stroke-width="0.35" >eSM:ePC</text>
<rect x="324.50" y="459.50" width="101.00" height="14.00" fill="#fff" stroke="#222" stroke-width="1" />
<text x="377.60" y="471.30" font-size="13.2" font-weight="bold" text-anchor="middle" fill="#000" font-family="Liberation Sans" stroke="#000" stroke-width="0.35" >ePC:Chol</text>
<rect x="428.50" y="459.50" width="101.00" height="14.00" fill="#fff" stroke="#222" stroke-width="1" />
<text x="480.20" y="471.30" font-size="13.2" font-weight="bold" text-anchor="middle" fill="#000" font-family="Liberation Sans" stroke="#000" stroke-width="0.35" >eSM:ePC:Chol</text>
<rect x="218.00" y="474.90" width="103.10" height="99.10" fill="#130000" />
<rect x="218.00" y="575.20" width="103.10" height="98.40" fill="#001c05" />
<rect x="323.60" y="474.90" width="101.90" height="99.10" fill="#040000" />
<rect x="323.60" y="575.20" width="101.90" height="98.40" fill="#000c02" />
<rect x="428.00" y="474.90" width="102.30" height="99.10" fill="#0e0000" />
<rect x="428.00" y="575.20" width="102.30" height="98.40" fill="#000e03" />
<circle cx="268" cy="523.3" r="40" fill="url(#glowR)"/>
<circle cx="267.6" cy="624.2" r="40" fill="url(#glowG)"/>
<circle cx="476" cy="528" r="24" fill="url(#glowR)" opacity="0.5"/>
<circle cx="477" cy="631" r="24" fill="url(#glowG)" opacity="0.3"/>
<circle cx="268" cy="523.3" r="25.3" fill="#480000" filter="url(#blur1)"/>
<circle cx="268" cy="523.3" r="25.3" fill="none" stroke="url(#ringR)" stroke-width="2.3" filter="url(#blur1c)"/>
<circle cx="255.1" cy="509.8" r="1.6" fill="#e01818" filter="url(#blur1)"/>
<circle cx="296.4" cy="549.6" r="4.5" fill="#7a0000" filter="url(#blur2)"/>
<circle cx="267.6" cy="624.2" r="24.9" fill="#0d5c18" filter="url(#blur1)"/>
<circle cx="267.6" cy="624.2" r="24.9" fill="none" stroke="url(#ringG)" stroke-width="2.3" filter="url(#blur1c)"/>
<circle cx="254.3" cy="611" r="1.7" fill="#40ff50" filter="url(#blur1)"/>
<circle cx="296.4" cy="649.4" r="4.5" fill="#0f5c18" filter="url(#blur2)"/>
<circle cx="373.2" cy="526.9" r="8.6" fill="#4a0000" stroke="#d01818" stroke-width="2.2" filter="url(#blur1c)"/>
<circle cx="375.4" cy="627.0" r="8.8" fill="#08400e" stroke="#22c02c" stroke-width="2.2" filter="url(#blur1c)"/>
<circle cx="368.5" cy="523" r="1.5" fill="#ff3030" filter="url(#blur1c)"/>
<circle cx="377" cy="520.5" r="1.4" fill="#f02828" filter="url(#blur1c)"/>
<circle cx="379.5" cy="531" r="1.5" fill="#e82020" filter="url(#blur1c)"/>
<circle cx="367" cy="530" r="1.2" fill="#c01818" filter="url(#blur1c)"/>
<circle cx="370" cy="622" r="1.4" fill="#40f050" filter="url(#blur1c)"/>
<circle cx="381" cy="623" r="1.4" fill="#38e848" filter="url(#blur1c)"/>
<circle cx="382" cy="631" r="1.5" fill="#40f050" filter="url(#blur1c)"/>
<circle cx="371" cy="633" r="1.3" fill="#30d040" filter="url(#blur1c)"/>
<path d="M460 538 Q460 526 468 518 Q474 512 480 514 Q488 519 492 528 Q496 536 492 540 Q484 543 476 541 Q466 543 460 538Z" fill="#4a0000" filter="url(#blur3)"/>
<path d="M463 536 Q463 527 469 521 Q475 516 480 518 Q486 522 489 529 Q492 535 489 537 Q482 539 476 537 Q468 539 463 536Z" fill="#8a0000" filter="url(#blur2)"/>
<circle cx="465.0" cy="531.5" r="2.8" fill="#ff2020" filter="url(#blur1c)"/>
<circle cx="466.5" cy="536.5" r="1.8" fill="#e01818" filter="url(#blur1c)"/>
<circle cx="463.5" cy="528" r="1.6" fill="#d01414" filter="url(#blur1c)"/>
<circle cx="475.5" cy="517.5" r="2.0" fill="#c81212" filter="url(#blur1c)"/>
<circle cx="479" cy="520.5" r="1.6" fill="#c01010" filter="url(#blur1c)"/>
<circle cx="481.3" cy="526" r="2.4" fill="#f01c1c" filter="url(#blur1c)"/>
<circle cx="484.5" cy="523" r="1.6" fill="#d81616" filter="url(#blur1c)"/>
<circle cx="486" cy="532.5" r="2.0" fill="#e81a1a" filter="url(#blur1c)"/>
<circle cx="489.5" cy="535" r="2.2" fill="#f01c1c" filter="url(#blur1c)"/>
<circle cx="492" cy="537.5" r="1.5" fill="#d01414" filter="url(#blur1c)"/>
<circle cx="471" cy="524" r="1.6" fill="#a00c0c" filter="url(#blur1c)"/>
<circle cx="473" cy="533" r="1.6" fill="#b00e0e" filter="url(#blur1c)"/>
<path d="M461 641 Q461 630 467 623 Q473 616 479 618 Q488 624 491 632 Q495 640 491 643 Q484 645 476 644 Q466 646 461 641Z" fill="#052a08" filter="url(#blur3)"/>
<path d="M464 639 Q464 631 469 625 Q474 620 479 622 Q486 627 488 633 Q491 639 488 641 Q482 642 476 641 Q468 643 464 639Z" fill="#084010" filter="url(#blur2)"/>
<circle cx="464.3" cy="633.7" r="2.2" fill="#3cff4c" filter="url(#blur1c)"/>
<circle cx="466" cy="638" r="1.5" fill="#2cc838" filter="url(#blur1c)"/>
<circle cx="474.6" cy="636.9" r="1.8" fill="#34e844" filter="url(#blur1c)"/>
<circle cx="481" cy="632" r="2.0" fill="#38f048" filter="url(#blur1c)"/>
<circle cx="483.5" cy="628" r="1.5" fill="#2cc838" filter="url(#blur1c)"/>
<circle cx="489.1" cy="640.1" r="2.0" fill="#34e844" filter="url(#blur1c)"/>
<circle cx="491.5" cy="637" r="1.4" fill="#28b832" filter="url(#blur1c)"/>
<circle cx="473" cy="620.8" r="1.6" fill="#2cc838" filter="url(#blur1c)"/>
<circle cx="477" cy="624" r="1.4" fill="#26b030" filter="url(#blur1c)"/>
<circle cx="485" cy="636" r="1.6" fill="#30d83e" filter="url(#blur1c)"/>
<circle cx="470" cy="628" r="1.4" fill="#26b030" filter="url(#blur1c)"/>
<line x1="269.70" y1="568.70" x2="318.30" y2="568.70" stroke="#921c26" stroke-width="1.5" />
<line x1="269.70" y1="669.00" x2="318.30" y2="669.00" stroke="#921c26" stroke-width="1.5" />
<line x1="361.60" y1="568.70" x2="423.50" y2="568.70" stroke="#921c26" stroke-width="1.5" />
<line x1="361.60" y1="669.00" x2="423.50" y2="669.00" stroke="#921c26" stroke-width="1.5" />
<line x1="483.70" y1="568.70" x2="527.20" y2="568.70" stroke="#921c26" stroke-width="1.5" />
<line x1="483.70" y1="669.00" x2="527.20" y2="669.00" stroke="#921c26" stroke-width="1.5" />
</svg>
</body></html>
